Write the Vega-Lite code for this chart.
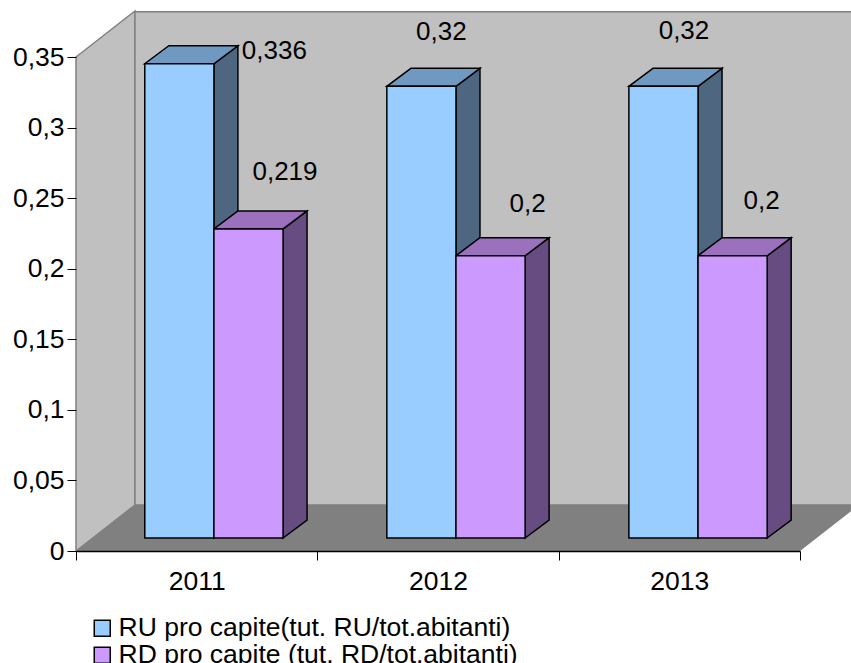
{
  "$schema": "https://vega.github.io/schema/vega-lite/v6.json",
  "width": 724,
  "height": 494,
  "autosize": {"type": "none"},
  "padding": {"left": 76, "top": 57, "right": 51, "bottom": 112},
  "background": "white",
  "datasets": {
    "bars": [
      {"year": 2011, "series": "RU pro capite(tut. RU/tot.abitanti)", "value": 0.336},
      {"year": 2011, "series": "RD pro capite (tut. RD/tot.abitanti)", "value": 0.219},
      {"year": 2012, "series": "RU pro capite(tut. RU/tot.abitanti)", "value": 0.32},
      {"year": 2012, "series": "RD pro capite (tut. RD/tot.abitanti)", "value": 0.2},
      {"year": 2013, "series": "RU pro capite(tut. RU/tot.abitanti)", "value": 0.32},
      {"year": 2013, "series": "RD pro capite (tut. RD/tot.abitanti)", "value": 0.2}
    ],
    "edge": [{"t": 0}, {"t": 1}]
  },
  "data": {"name": "bars"},
  "transform": [
    {"calculate": "slice(datum.series, 0, 2)", "as": "code"},
    {"calculate": "datum.year + datum.code", "as": "key"},
    {"calculate": "(datum.year - 2011) * 1.003 + 0.285 + (datum.code === 'RU' ? 0 : 0.2865)", "as": "x0"},
    {"calculate": "datum.x0 + 0.2865", "as": "x1"},
    {"calculate": "0.0092", "as": "base"},
    {"calculate": "0.0092 + datum.value", "as": "top"},
    {"calculate": "replace(toString(datum.value), '.', ',')", "as": "label"}
  ],
  "config": {
    "font": "Liberation Sans",
    "view": {"stroke": null},
    "axis": {"grid": false, "title": null}
  },
  "resolve": {"scale": {"fill": "independent"}},
  "layer": [
    {
      "data": {"name": "edge"},
      "transform": [
        {"calculate": "datum.t * 0.2443", "as": "wx"},
        {"calculate": "datum.t * 0.0326", "as": "wb"},
        {"calculate": "0.35 + datum.t * 0.0326", "as": "wt"}
      ],
      "mark": {"type": "area", "orient": "vertical", "fill": "#C0C0C0", "stroke": "#808080", "strokeWidth": 1.5},
      "encoding": {
        "x": {
          "field": "wx", "type": "quantitative",
          "scale": {"domain": [0, 3], "nice": false, "zero": false},
          "axis": {
            "values": [0, 0.5, 1, 1.5, 2, 2.5, 3],
            "domain": true, "domainColor": "#000000", "domainWidth": 1.5,
            "tickSize": 9, "tickColor": "#000000",
            "tickOpacity": {"condition": {"test": "datum.value % 1 === 0", "value": 1}, "value": 0},
            "labelExpr": "datum.value % 1 === 0 ? '' : toString(2010.5 + datum.value)",
            "labelFontSize": 26.5, "labelColor": "#000000", "labelPadding": 8,
            "labelOverlap": false, "labelFlush": false, "zindex": 1
          }
        },
        "y": {
          "field": "wb", "type": "quantitative", "stack": null,
          "scale": {"domain": [0, 0.35], "nice": false, "zero": false},
          "axis": {
            "values": [0, 0.05, 0.1, 0.15, 0.2, 0.25, 0.3, 0.35],
            "domain": false, "tickSize": 9, "tickColor": "#000000",
            "labelExpr": "replace(toString(datum.value), '.', ',')",
            "labelFontSize": 26.5, "labelColor": "#000000", "labelPadding": 3,
            "labelOverlap": false, "labelFlush": false, "zindex": 1
          }
        },
        "y2": {"field": "wt"}
      }
    },
    {
      "data": {"name": "edge"},
      "transform": [{"filter": "datum.t === 0"}],
      "mark": {"type": "rect", "fill": "#C0C0C0", "stroke": "#808080", "strokeWidth": 1.5},
      "encoding": {
        "x": {"datum": 0.2443, "type": "quantitative"},
        "x2": {"datum": 3.3},
        "y": {"datum": 0.0326, "type": "quantitative"},
        "y2": {"datum": 0.382}
      }
    },
    {
      "data": {"name": "edge"},
      "transform": [
        {"calculate": "datum.t * 0.0326", "as": "fy"},
        {"calculate": "datum.t * 0.2443", "as": "fx0"},
        {"calculate": "3 + datum.t * 0.2443", "as": "fx1"}
      ],
      "mark": {"type": "area", "orient": "horizontal", "fill": "#808080"},
      "encoding": {
        "y": {"field": "fy", "type": "quantitative", "stack": null},
        "x": {"field": "fx0", "type": "quantitative"},
        "x2": {"field": "fx1"}
      }
    },
    {
      "transform": [
        {"calculate": "[0, 1]", "as": "t"},
        {"flatten": ["t"]},
        {"calculate": "datum.x1 + datum.t * 0.0994", "as": "sx"},
        {"calculate": "datum.base + datum.t * 0.01276", "as": "sb"},
        {"calculate": "datum.top + datum.t * 0.01276", "as": "st"}
      ],
      "mark": {"type": "area", "orient": "vertical", "stroke": "#000000", "strokeWidth": 1.5},
      "encoding": {
        "x": {"field": "sx", "type": "quantitative"},
        "y": {"field": "sb", "type": "quantitative", "stack": null},
        "y2": {"field": "st"},
        "detail": {"field": "key"},
        "fill": {
          "field": "series", "type": "nominal", "legend": null,
          "scale": {
            "domain": ["RU pro capite(tut. RU/tot.abitanti)", "RD pro capite (tut. RD/tot.abitanti)"],
            "range": ["#4F6680", "#664C80"]
          }
        }
      }
    },
    {
      "transform": [
        {"calculate": "[0, 1]", "as": "t"},
        {"flatten": ["t"]},
        {"calculate": "datum.top + datum.t * 0.01276", "as": "ty"},
        {"calculate": "datum.x0 + datum.t * 0.0994", "as": "tx0"},
        {"calculate": "datum.x1 + datum.t * 0.0994", "as": "tx1"}
      ],
      "mark": {"type": "area", "orient": "horizontal", "stroke": "#000000", "strokeWidth": 1.5},
      "encoding": {
        "y": {"field": "ty", "type": "quantitative", "stack": null},
        "x": {"field": "tx0", "type": "quantitative"},
        "x2": {"field": "tx1"},
        "detail": {"field": "key"},
        "fill": {
          "field": "series", "type": "nominal", "legend": null,
          "scale": {
            "domain": ["RU pro capite(tut. RU/tot.abitanti)", "RD pro capite (tut. RD/tot.abitanti)"],
            "range": ["#7099C2", "#9B70BD"]
          }
        }
      }
    },
    {
      "mark": {"type": "rect", "stroke": "#000000", "strokeWidth": 1.5},
      "encoding": {
        "x": {"field": "x0", "type": "quantitative"},
        "x2": {"field": "x1"},
        "y": {"field": "base", "type": "quantitative"},
        "y2": {"field": "top"},
        "fill": {
          "field": "series", "type": "nominal",
          "scale": {
            "domain": ["RU pro capite(tut. RU/tot.abitanti)", "RD pro capite (tut. RD/tot.abitanti)"],
            "range": ["#99CCFF", "#CC99FF"]
          },
          "legend": {
            "title": null, "orient": "none", "legendX": 13, "legendY": 558,
            "symbolType": "square", "symbolSize": 256,
            "symbolStrokeColor": "#000000", "symbolStrokeWidth": 1.5,
            "labelFontSize": 26.5, "labelColor": "#000000", "labelLimit": 600,
            "rowPadding": -1, "labelOffset": 3, "padding": 0
          }
        }
      }
    },
    {
      "transform": [
        {"calculate": "({'2011RU': 95, '2011RD': 36.5, '2012RU': 20, '2012RD': 37, '2013RU': 20.5, '2013RD': 29})[datum.key]", "as": "ox"},
        {"calculate": "({'2011RU': 13, '2011RD': 57, '2012RU': 54, '2012RD': 52, '2013RU': 55, '2013RD': 55})[datum.key]", "as": "oy"},
        {"calculate": "(datum.x0 + datum.x1) / 2 + datum.ox / 241.3", "as": "lx"},
        {"calculate": "datum.top + datum.oy / 1411.4", "as": "ly"}
      ],
      "mark": {"type": "text", "fontSize": 26, "color": "#000000", "align": "center", "baseline": "middle"},
      "encoding": {
        "x": {"field": "lx", "type": "quantitative"},
        "y": {"field": "ly", "type": "quantitative"},
        "text": {"field": "label"}
      }
    }
  ]
}
